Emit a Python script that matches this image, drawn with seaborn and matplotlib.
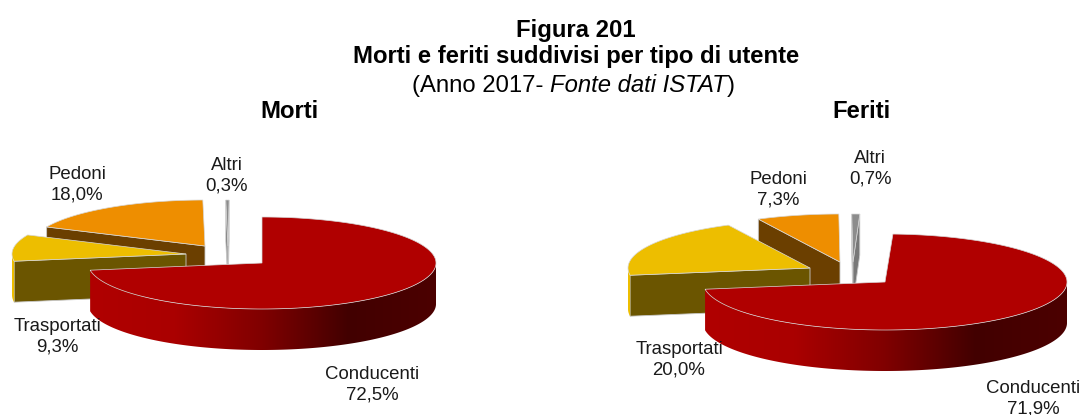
#!/usr/bin/env python3
"""Two exploded pseudo-3D pies: morti e feriti per tipo di utente (ISTAT 2017)."""
import numpy as np
import matplotlib
matplotlib.use("Agg")
import matplotlib.pyplot as plt
from matplotlib.patches import Polygon
import seaborn as sns

# data
labels = ["Conducenti", "Trasportati", "Pedoni", "Altri"]
morti_pct = [72.5, 9.3, 18.0, 0.3]
feriti_pct = [71.9, 20.0, 7.3, 0.7]

# colours
top_colors = ["#b00000", "#edbe00", "#ee8e00", "#8c8c8c"]
face_colors = ["#800000", "#6b5500", "#6b3f00", "#787878"]
rim_stops = ["#b00000", "#aa0000", "#800000", "#420000", "#4c0000"]

# layout in figure pixels
morti_apex = [(262, 263), (186, 254), (205, 246), (228, 246)]
feriti_apex = [(885, 282), (810, 268), (840, 262), (853, 262)]
morti_label_xy = [(372, 385), (57, 337), (77, 185), (227, 176)]
feriti_label_xy = [(1033, 399), (679, 360), (778, 190), (870, 169)]

sns.set_theme(style="white")
plt.rcParams["font.family"] = ["Liberation Sans", "DejaVu Sans"]


def rim_xy(apex, theta, rx, ry):
    """Point on the ellipse, theta in degrees clockwise from 12 o'clock."""
    t = np.radians(theta)
    return apex[0] + rx * np.sin(t), apex[1] - ry * np.cos(t)


def draw_pie(ax, values, apexes, start, rx, ry, depth, label_xy):
    angles = np.cumsum([0] + list(values)) * 3.6 + start
    ramp = np.array(sns.blend_palette(rim_stops, n_colors=256))[None, :, :]
    left, right = apexes[0][0] - rx, apexes[0][0] + rx

    # back slices first, Conducenti goes on top
    for i in reversed(range(len(values))):
        a0, a1 = angles[i], angles[i + 1]
        apex = apexes[i]
        z = 5 - i
        theta = np.linspace(a0, a1, max(int((a1 - a0) * 2), 4))
        xs, ys = rim_xy(apex, theta, rx, ry)

        # cut faces that look towards the viewer
        for ang, visible in ((a0, np.sin(np.radians(a0)) < 0), (a1, np.sin(np.radians(a1)) > 0)):
            if visible:
                x, y = rim_xy(apex, ang, rx, ry)
                ax.fill([apex[0], x, x, apex[0]],
                        [apex[1], y, y + depth, apex[1] + depth],
                        color=face_colors[i], ec="#c9c9c9", lw=0.6, zorder=z)

        # outer wall, only the front half of the ellipse
        front = theta[(theta >= 90) & (theta <= 270)]
        if len(front) > 1:
            fx, fy = rim_xy(apex, front, rx, ry)
            wall = np.c_[np.r_[fx, fx[::-1]], np.r_[fy, fy[::-1] + depth]]
            if i == 0:
                patch = Polygon(wall, closed=True, transform=ax.transData)
                im = ax.imshow(ramp, extent=(left, right, apex[1] + ry + depth + 5, apex[1] - 5),
                               aspect="auto", interpolation="bilinear", zorder=z)
                im.set_clip_path(patch)
            else:
                ax.fill(wall[:, 0], wall[:, 1], color=top_colors[i], lw=0, zorder=z)

        # top of the slice
        ax.fill(np.r_[apex[0], xs], np.r_[apex[1], ys], color=top_colors[i],
                ec="#d8d8d8", lw=0.5, zorder=z + 0.5)

        txt = f"{labels[i]}\n{values[i]:.1f}%".replace(".", ",")
        ax.text(*label_xy[i], txt, ha="center", va="center", fontsize=13.4,
                color="#1a1a1a", linespacing=1.24, zorder=10)


fig = plt.figure(figsize=(10.83, 4.15), dpi=100)
ax = fig.add_axes([0, 0, 1, 1])

draw_pie(ax, morti_pct, morti_apex, 0, 174, 46, 41, morti_label_xy)
draw_pie(ax, feriti_pct, feriti_apex, 2.5, 182, 48, 41, feriti_label_xy)

# imshow touches the limits, so set them last
ax.set_xlim(0, 1083)
ax.set_ylim(415, 0)
ax.axis("off")

# titles
ax.text(576, 30, "Figura 201", ha="center", va="center", fontsize=17.2, fontweight="bold", color="black")
ax.text(576, 56.5, "Morti e feriti suddivisi per tipo di utente", ha="center", va="center",
        fontsize=17.2, fontweight="bold", color="black")
t1 = ax.text(412, 92, "(Anno 2017- ", ha="left", va="baseline", fontsize=17.2, color="black")
t2 = ax.annotate("Fonte dati ISTAT", xy=(1, 0), xycoords=t1, va="bottom", ha="left",
                 fontsize=17.2, fontstyle="italic", color="black")
ax.annotate(")", xy=(1, 0), xycoords=t2, va="bottom", ha="left", fontsize=17.2, color="black")
ax.text(289, 111, "Morti", ha="center", va="center", fontsize=17.2, fontweight="bold", color="black")
ax.text(861, 111, "Feriti", ha="center", va="center", fontsize=17.2, fontweight="bold", color="black")

fig.savefig("out.png", dpi=100, facecolor="white")
plt.close(fig)
